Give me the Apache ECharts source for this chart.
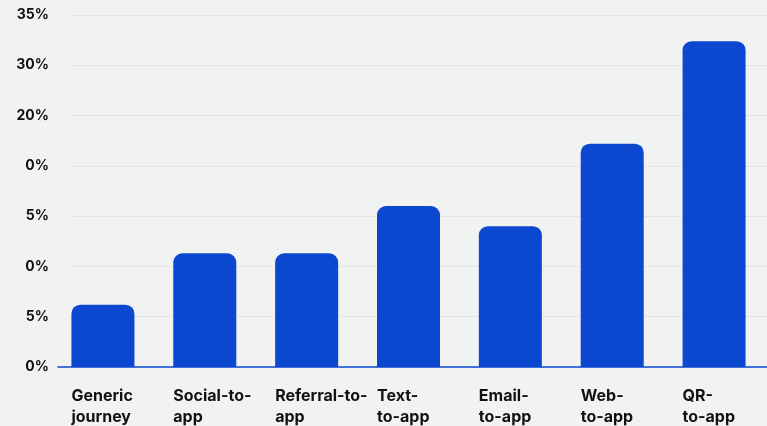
<!DOCTYPE html>
<html>
<head>
<meta charset="utf-8">
<script src="https://cdn.jsdelivr.net/npm/echarts@6/dist/echarts.min.js"></script>
<style>
html, body { margin: 0; padding: 0; background: #f1f2f2; }
#container { width: 767px; height: 426px; }
</style>
</head>
<body>
<div id="container"></div>
<script>
// 数据
var categories = ['Generic\njourney', 'Social-to-\napp', 'Referral-to-\napp', 'Text-\nto-app', 'Email-\nto-app', 'Web-\nto-app', 'QR-\nto-app'];
var values = [6.2, 11.3, 11.3, 16.0, 14.0, 22.2, 32.4];
var tickLabels = ['0%', '5%', '0%', '5%', '0%', '20%', '30%', '35%'];

var dom = document.getElementById('container');
var myChart = echarts.init(dom);

var blue = '#0b48cf';
var font = 'Inter, "Noto Sans", sans-serif';

var option = {
	backgroundColor: '#f1f2f2',
	animation: false,
	grid: [
		{ left: 52, right: 2, top: 15, bottom: 59 },   // 柱子
		{ left: 72, right: 0, top: 15, bottom: 59 },   // 网格线
		{ left: 58, right: 0, top: 15, bottom: 59 }    // 底部轴线
	],
	xAxis: [
		{
			type: 'category',
			gridIndex: 0,
			data: categories,
			axisLine: { show: false },
			axisTick: { show: false },
			axisLabel: {
				interval: 0,
				margin: 19,
				formatter: function (v) {
					return v.split('\n').map(function (s) { return '{a|' + s + '}'; }).join('\n');
				},
				rich: {
					a: {
						width: 63,
						align: 'left',
						fontFamily: font,
						fontWeight: 'bold',
						fontSize: 16,
						lineHeight: 21,
						color: '#111'
					}
				}
			}
		},
		{ type: 'value', gridIndex: 1, show: false },
		{
			type: 'value',
			gridIndex: 2,
			axisLine: { show: true, onZero: false, lineStyle: { color: blue, width: 1.5 } },
			axisTick: { show: false },
			axisLabel: { show: false },
			splitLine: { show: false }
		}
	],
	yAxis: [
		{
			type: 'value',
			gridIndex: 0,
			min: 0,
			max: 35,
			interval: 5,
			axisLine: { show: false },
			axisTick: { show: false },
			splitLine: { show: false },
			axisLabel: {
				margin: 3,
				fontFamily: font,
				fontWeight: 'bold',
				fontSize: 14,
				color: '#111',
				formatter: function (v) { return tickLabels[Math.round(v / 5)]; }
			}
		},
		{
			type: 'value',
			gridIndex: 1,
			min: 0,
			max: 35,
			interval: 5,
			axisLine: { show: false },
			axisTick: { show: false },
			axisLabel: { show: false },
			splitLine: { show: true, lineStyle: { color: '#e3e5e5', width: 1 } }
		},
		{ type: 'value', gridIndex: 2, min: 0, max: 35, show: false }
	],
	series: [{
		type: 'bar',
		xAxisIndex: 0,
		yAxisIndex: 0,
		data: values,
		barWidth: 63,
		z: 3,
		itemStyle: { color: blue, borderRadius: [9, 9, 0, 0] }
	}]
};

myChart.setOption(option);
</script>
</body>
</html>
